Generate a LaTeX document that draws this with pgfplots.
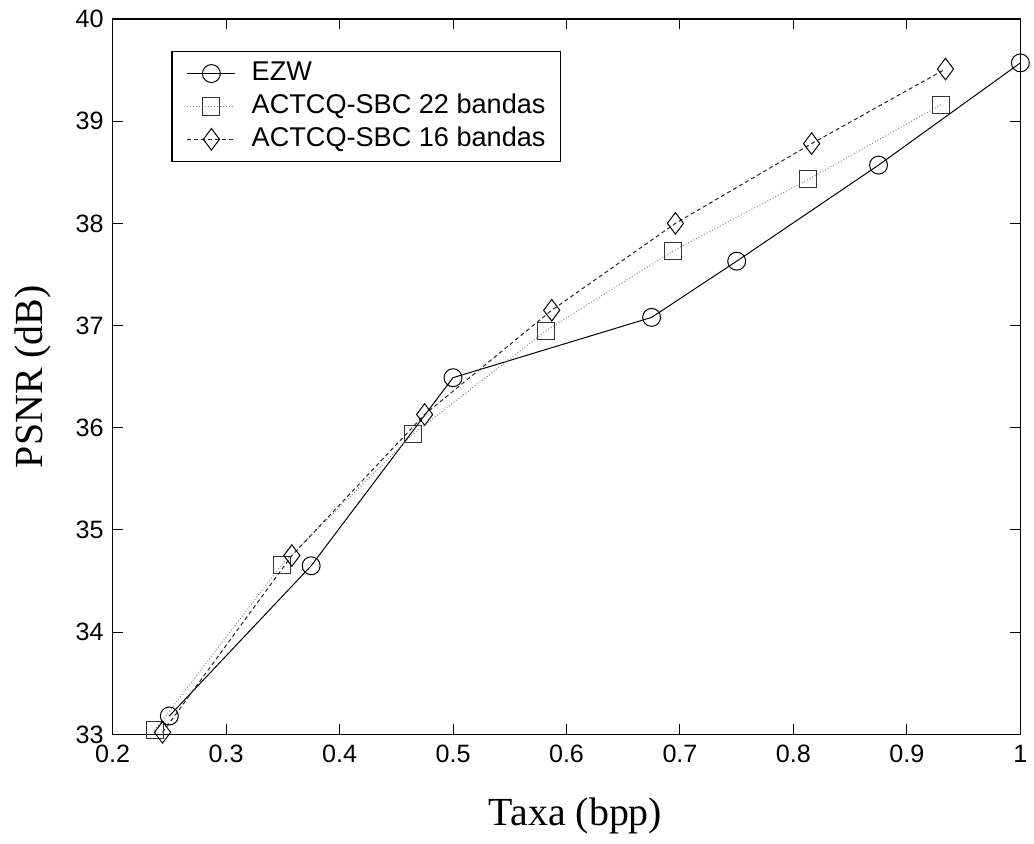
\documentclass[border=0pt]{standalone}
\usepackage{fontspec}
\setmainfont{Liberation Sans}
\newfontfamily\labelfont{Liberation Serif}
\usepackage{pgfplots}
\pgfplotsset{compat=1.18}

\begin{document}
\begin{tikzpicture}
\begin{axis}[
    scale only axis,
    width=455.5pt,
    height=359pt,
    xmin=0.2, xmax=1,
    ymin=33, ymax=40,
    xtick={0.2,0.3,...,1.0},
    ytick={33,34,...,40},
    xticklabels={0.2,0.3,0.4,0.5,0.6,0.7,0.8,0.9,1},
    tick align=inside,
    ticks=both,
    major tick length=5pt,
    tick style={black, line width=0.5pt},
    axis line style={line width=0.8pt},
    /pgf/number format/assume math mode=true,
    tick label style={font=\fontsize{12.6}{15}\selectfont},
    xticklabel style={yshift=-2pt},
    yticklabel style={xshift=-1pt},
    xlabel={\labelfont\fontsize{20}{24}\selectfont Taxa (bpp)},
    ylabel={\labelfont\fontsize{20}{24}\selectfont PSNR (dB)},
    xlabel style={at={(axis description cs:0.51,0)}, anchor=center, yshift=-41pt},
    ylabel style={at={(axis description cs:0,0.5)}, anchor=center, yshift=40pt},
    clip=false,
    legend style={
        at={(rel axis cs:0.0648,0.9554)},
        anchor=north west,
        draw=black,
        line width=0.6pt,
        font=\fontsize{13.6}{16}\selectfont,
        inner xsep=7.5pt,
        inner ysep=4.6pt,
        row sep=3.5pt,
        nodes={inner sep=0pt, text height=10pt, text depth=3pt},
        cells={anchor=west},
        /tikz/column 1/.style={column sep=8pt},
    },
    legend image code/.code={
        \draw[mark repeat=2,mark phase=2,#1]
            plot coordinates {(0pt,0pt)(12pt,0pt)(24pt,0pt)};
    },
]
% EZW
\addplot[black, line width=0.5pt, mark=o, mark size=4.5pt,
         mark options={solid, line width=0.5pt}] coordinates {
    (0.25,33.18) (0.375,34.65) (0.5,36.49) (0.675,37.08)
    (0.75,37.63) (0.875,38.57) (1.0,39.57)
};
\addlegendentry{EZW}

% ACTCQ-SBC 22 bandas
\addplot[black!45, line width=0.5pt, dash pattern=on 0.5pt off 1pt,
         mark=square, mark size=4.3pt,
         mark options={solid, black!80, line width=0.5pt}] coordinates {
    (0.237,33.04) (0.349,34.66) (0.465,35.94) (0.582,36.95)
    (0.694,37.73) (0.813,38.43) (0.930,39.16)
};
\addlegendentry{ACTCQ-SBC 22 bandas}

% ACTCQ-SBC 16 bandas
\addplot[black!85, line width=0.5pt, dash pattern=on 2pt off 1.5pt,
         mark=diamond, mark size=5.4pt,
         mark options={solid, black, line width=0.5pt}] coordinates {
    (0.244,33.02) (0.358,34.75) (0.475,36.13) (0.587,37.15)
    (0.696,38.00) (0.816,38.78) (0.934,39.51)
};
\addlegendentry{ACTCQ-SBC 16 bandas}
\end{axis}
\path (-56.5pt,-54.5pt) rectangle (460.5pt,368.5pt);
\end{tikzpicture}
\end{document}
